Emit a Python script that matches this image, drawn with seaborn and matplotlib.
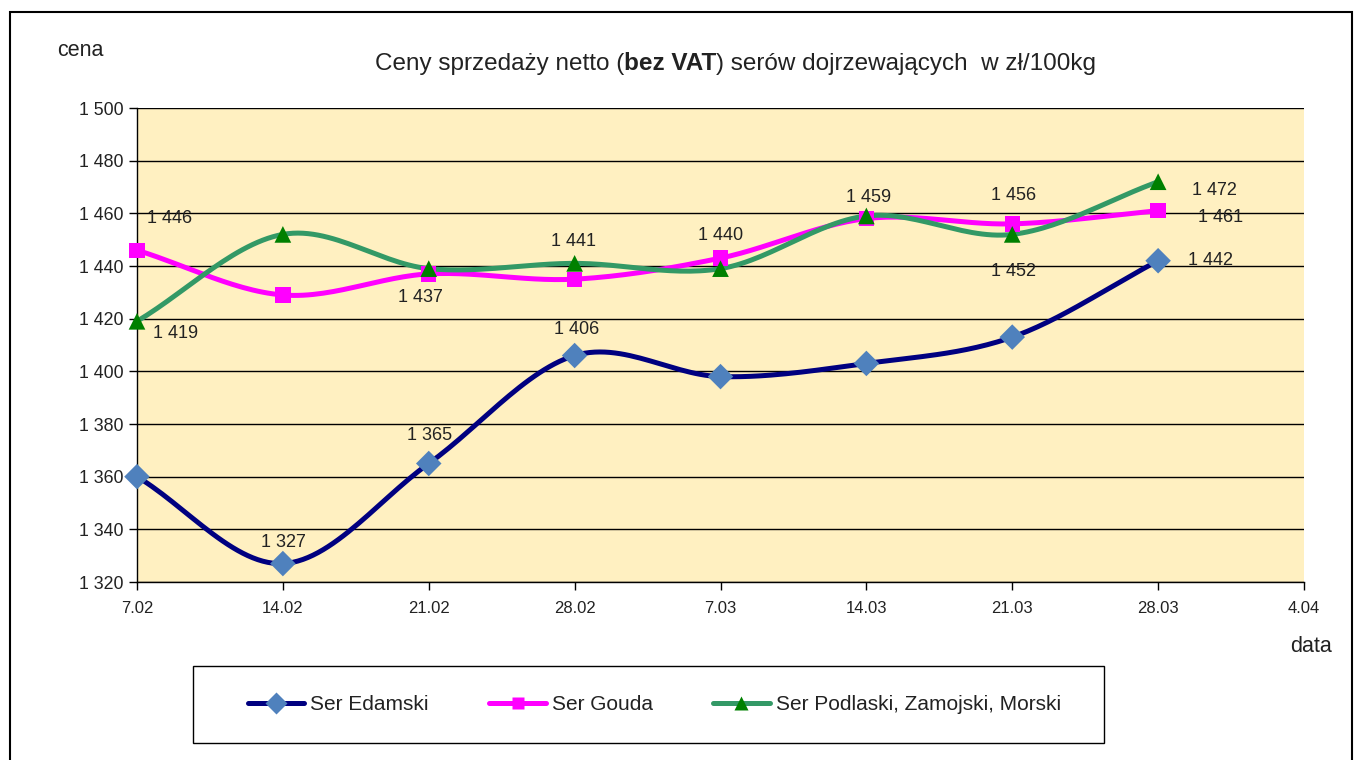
import numpy as np
import pandas as pd
import matplotlib
matplotlib.use('Agg')
import matplotlib.pyplot as plt
from matplotlib.patches import Rectangle
from matplotlib.lines import Line2D
import seaborn as sns

# dane z wykresu
daty = ['7.02', '14.02', '21.02', '28.02', '7.03', '14.03', '21.03', '28.03', '4.04']
edamski = [1360, 1327, 1365, 1406, 1398, 1403, 1413, 1442]
gouda = [1446, 1429, 1437, 1435, 1443, 1458, 1456, 1461]
podlaski = [1419, 1452, 1439, 1441, 1439, 1459, 1452, 1472]
y_ticks = [1320, 1340, 1360, 1380, 1400, 1420, 1440, 1460, 1480, 1500]

# etykiety danych: (seria, indeks daty, tekst, przesunięcie w px)
etykiety = [
    ('edamski', 1, '1 327', (1, 21)),
    ('edamski', 2, '1 365', (1, 28)),
    ('edamski', 3, '1 406', (2, 26)),
    ('edamski', 7, '1 442', (52, 0)),
    ('gouda', 0, '1 446', (33, 32)),
    ('gouda', 2, '1 437', (-8, -24)),
    ('gouda', 6, '1 456', (1, 28)),
    ('gouda', 7, '1 461', (62, -7)),
    ('podlaski', 0, '1 419', (39, -12)),
    ('podlaski', 3, '1 441', (-1, 22)),
    ('podlaski', 4, '1 440', (0, 33)),
    ('podlaski', 5, '1 459', (2, 18)),
    ('podlaski', 6, '1 452', (1, -37)),
    ('podlaski', 7, '1 472', (56, -9)),
]

serie = {
    'edamski': dict(name='Ser Edamski', vals=edamski, line='#000080',
                    marker='D', mcolor='#4F81BD', ms=13),
    'gouda': dict(name='Ser Gouda', vals=gouda, line='#FF00FF',
                  marker='s', mcolor='#FF00FF', ms=11),
    'podlaski': dict(name='Ser Podlaski, Zamojski, Morski', vals=podlaski,
                     line='#339966', marker='^', mcolor='#008000', ms=12),
}

TXT = '#222222'


def wygladz(x, y, n=30):
    """Wygładzona linia jak w Excelu (spline Catmull-Rom)"""
    x = np.asarray(x, float)
    y = np.asarray(y, float)
    px = np.concatenate([[2 * x[0] - x[1]], x, [2 * x[-1] - x[-2]]])
    py = np.concatenate([[2 * y[0] - y[1]], y, [2 * y[-1] - y[-2]]])
    xs, ys = [], []
    t = np.linspace(0, 1, n)
    for i in range(1, len(px) - 2):
        for p, out in ((px, xs), (py, ys)):
            p0, p1, p2, p3 = p[i - 1], p[i], p[i + 1], p[i + 2]
            out.append(0.5 * ((2 * p1) + (-p0 + p2) * t
                              + (2 * p0 - 5 * p1 + 4 * p2 - p3) * t ** 2
                              + (-p0 + 3 * p1 - 3 * p2 + p3) * t ** 3))
    return np.concatenate(xs), np.concatenate(ys)


sns.set_theme(style='white')
plt.rcParams['font.family'] = ['Liberation Sans', 'DejaVu Sans']

fig = plt.figure(figsize=(13.61, 7.6), dpi=100)
ax = fig.add_axes([137 / 1361, 1 - 582 / 760, (1304 - 137) / 1361, (582 - 108) / 760])
ax.set_facecolor('#FFF0C1')

x = np.arange(len(edamski))
for key, s in serie.items():
    sx, sy = wygladz(x, s['vals'])
    ax.plot(sx, sy, color=s['line'], lw=3.6, zorder=3, solid_capstyle='round')
    df = pd.DataFrame({'x': x, 'y': s['vals']})
    sns.scatterplot(data=df, x='x', y='y', marker=s['marker'], color=s['mcolor'],
                    s=s['ms'] ** 2, edgecolor='none', zorder=4, clip_on=False, ax=ax)

for key, i, txt, (dx, dy) in etykiety:
    ax.annotate(txt, xy=(i, serie[key]['vals'][i]), xytext=(dx * 0.72, dy * 0.72),
                textcoords='offset points', ha='center', va='center',
                fontsize=13, color=TXT, zorder=5)

ax.set_xlim(0, 8)
ax.set_ylim(1320, 1500)
ax.set_xticks(range(len(daty)))
ax.set_xticklabels(daty)
ax.set_yticks(y_ticks)
ax.set_yticklabels([f'{v:,}'.replace(',', ' ') for v in y_ticks])
ax.tick_params(axis='both', direction='out', length=6, width=1, color='black',
               labelcolor=TXT, left=True, bottom=True)
ax.tick_params(axis='x', pad=8, labelsize=12)
ax.tick_params(axis='y', labelsize=12.8)
ax.set_xlabel('')
ax.set_ylabel('')
ax.grid(axis='y', color='black', lw=1)
ax.grid(axis='x', visible=False)
ax.set_axisbelow(True)
for side in ['top', 'right']:
    ax.spines[side].set_visible(False)
for side in ['left', 'bottom']:
    ax.spines[side].set_color('black')
    ax.spines[side].set_linewidth(1)

# tytuł z pogrubionym fragmentem
fig.canvas.draw()
inv = fig.transFigure.inverted()
tx, ty = 375 / 1361, 1 - 64 / 760
for kawalek, waga in [('Ceny sprzedaży netto (', 'normal'), ('bez VAT', 'bold'),
                      (') serów dojrzewających  w zł/100kg', 'normal')]:
    t = fig.text(tx, ty, kawalek, fontsize=17.5, fontweight=waga,
                 va='center', ha='left', color=TXT)
    fig.canvas.draw()
    tx = inv.transform((t.get_window_extent().x1, 0))[0]

fig.text(57 / 1361, 1 - 50 / 760, 'cena', fontsize=15.5, va='center', ha='left', color=TXT)
fig.text(1311 / 1361, 1 - 647 / 760, 'data', fontsize=15.5, va='center', ha='center', color=TXT)

# legenda
uchwyty = [Line2D([0], [0], color=s['line'], lw=3.6, marker=s['marker'],
                  markerfacecolor=s['mcolor'], markeredgecolor='none', markersize=s['ms'] * 0.85)
           for s in serie.values()]
leg = fig.legend(uchwyty, [s['name'] for s in serie.values()], loc='center left',
                 bbox_to_anchor=(248 / 1361, 1 - 705 / 760), ncol=3,
                 fontsize=15, frameon=False, handlelength=2.7,
                 columnspacing=2.9, handletextpad=0.3, borderpad=0,
                 borderaxespad=0, labelcolor=TXT)
fig.patches.append(Rectangle((193 / 1361, 1 - 743 / 760), (1104 - 193) / 1361, 77 / 760,
                             transform=fig.transFigure, fill=False, ec='black', lw=1))

# ramka wykresu
fig.patches.append(Rectangle((10 / 1361, -0.05), (1352 - 10) / 1361, 1.05 - 12 / 760,
                             transform=fig.transFigure, fill=False, ec='black', lw=1.5))

plt.savefig('out.png', dpi=100)
plt.close()
